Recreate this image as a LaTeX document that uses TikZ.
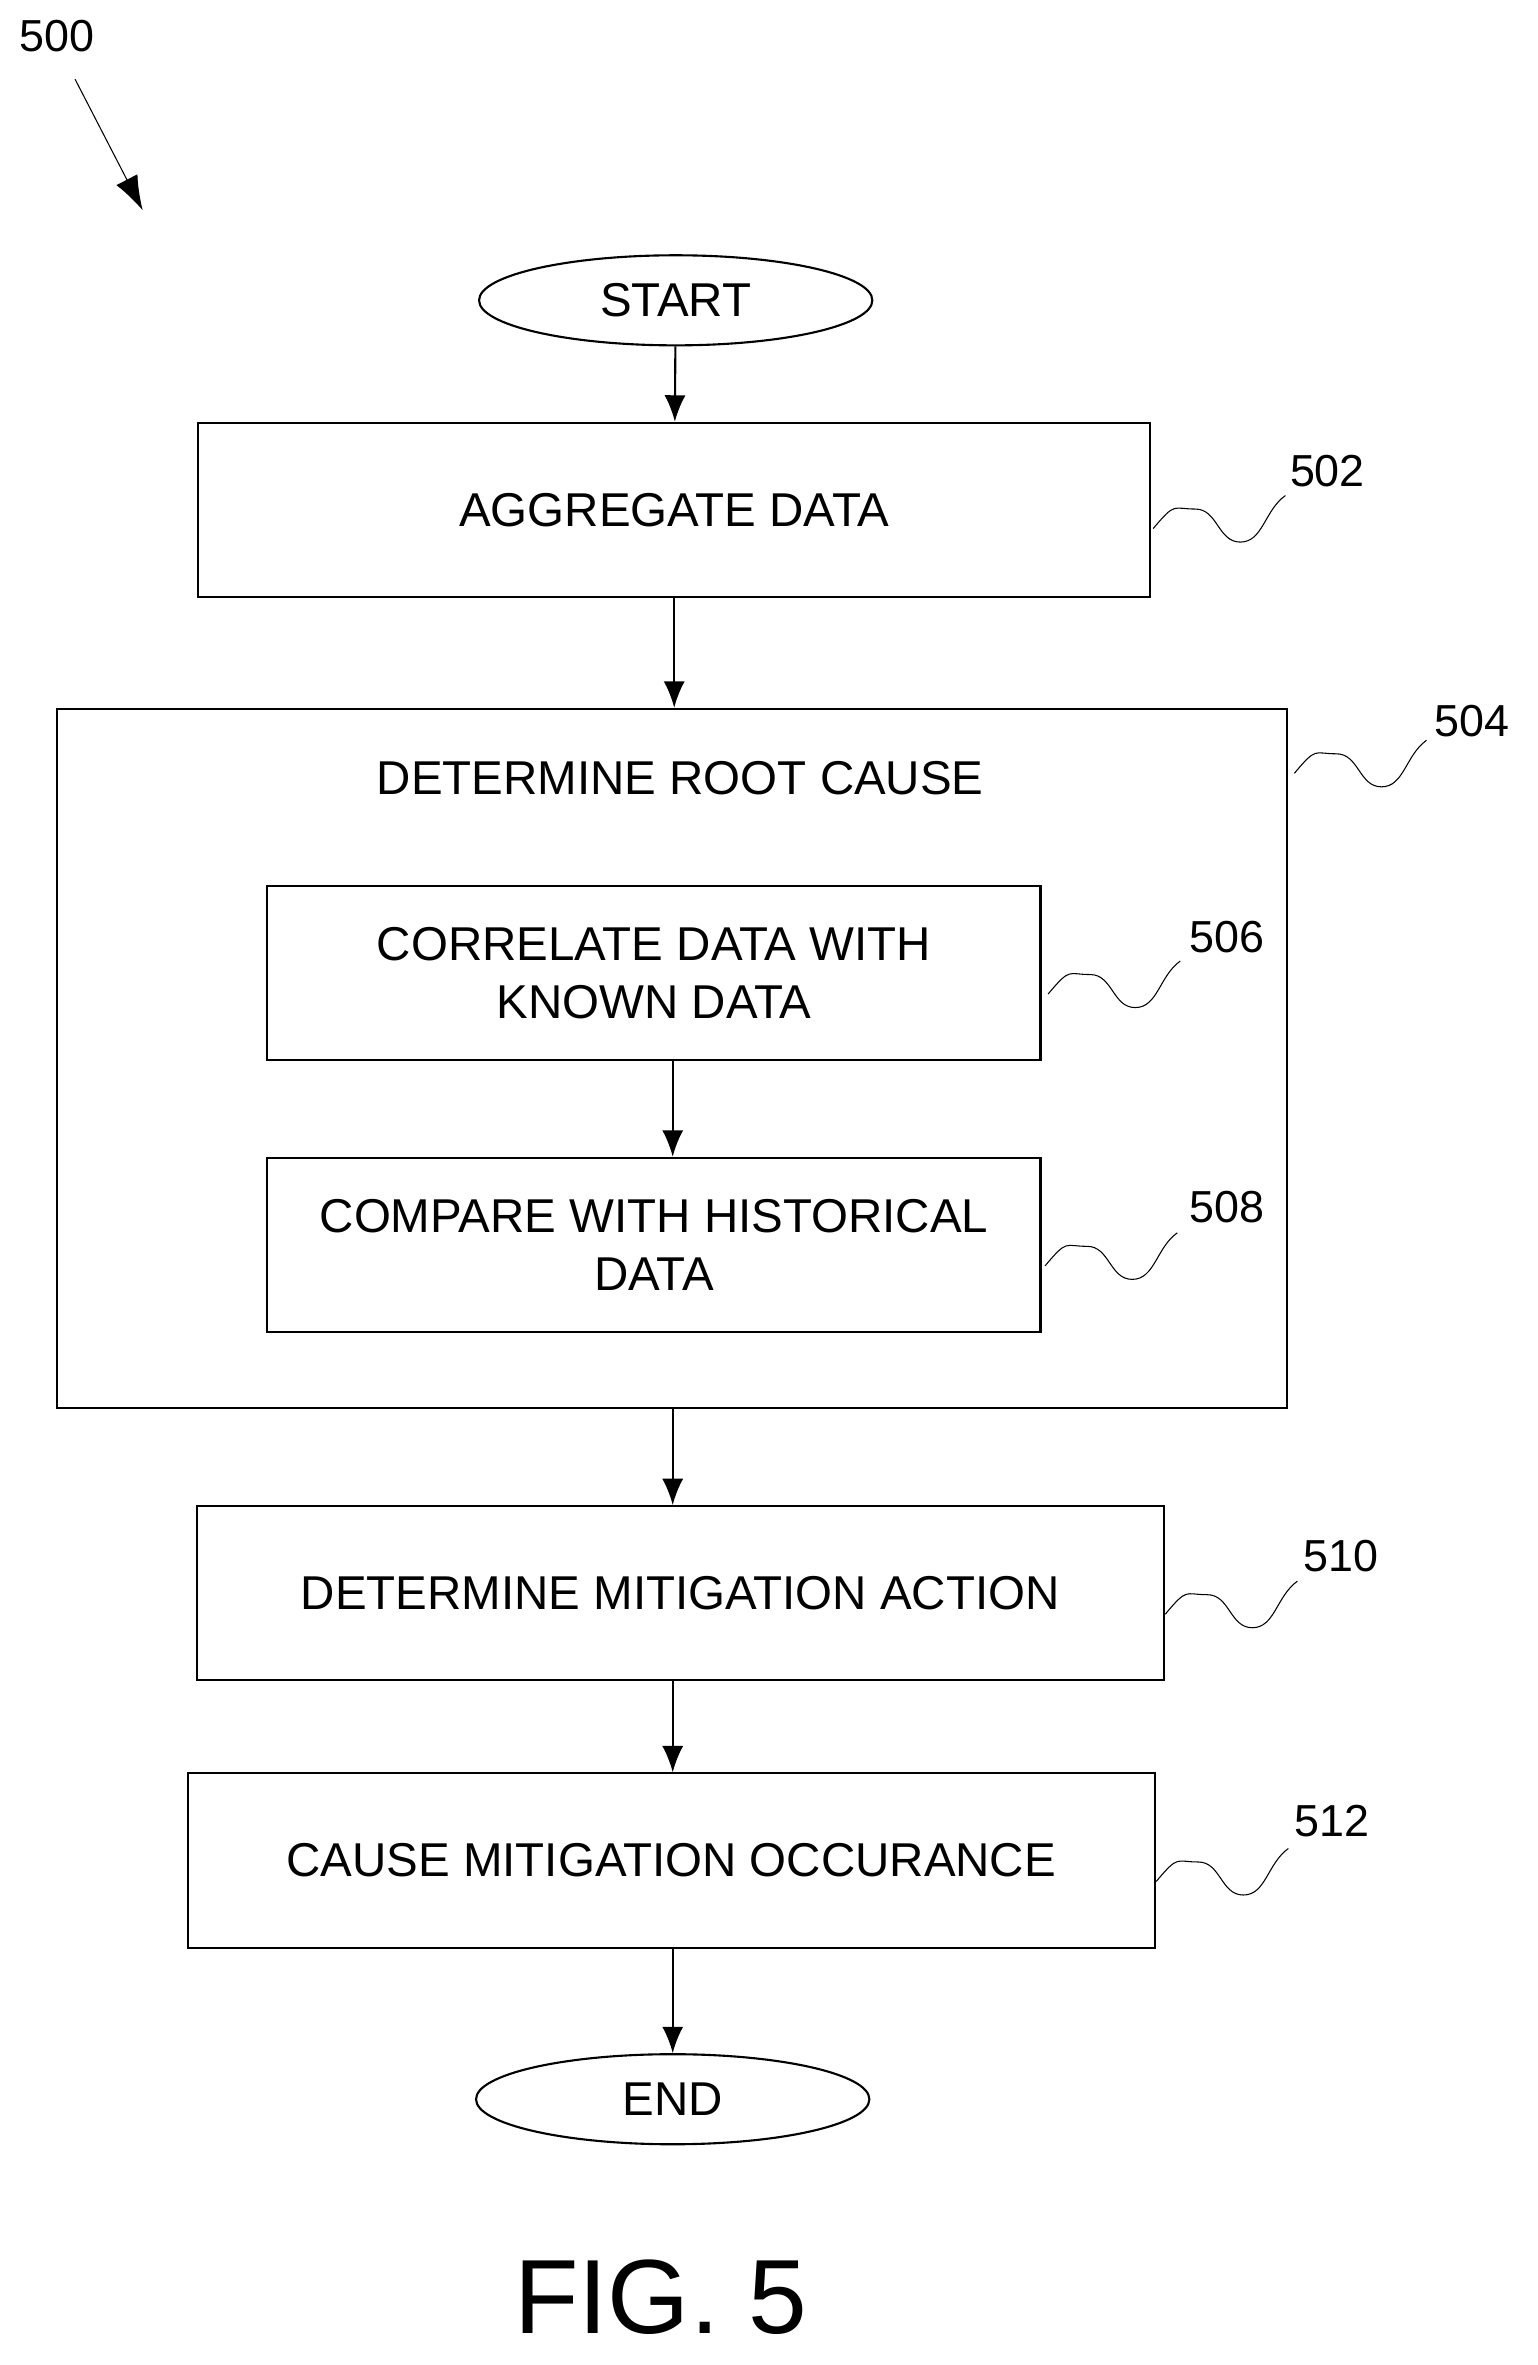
\documentclass[tikz,border=0pt]{standalone}
\usepackage{fontspec}
\setmainfont{Liberation Sans}
\usetikzlibrary{shapes.geometric,arrows.meta}
\begin{document}
\begin{tikzpicture}[x=0.02cm,y=-0.02cm,
  step/.style={draw,thick,minimum width=#1,minimum height=2.32cm,align=center,font=\fontsize{18}{22}\selectfont,inner sep=0pt},
  term/.style={draw,thick,ellipse,minimum width=5.24cm,minimum height=1.2cm,font=\fontsize{18}{22}\selectfont},
  num/.style={font=\fontsize{17}{21}\selectfont},
  flow/.style={-{Latex[length=10pt,width=8pt]},thick}
  ]
\useasboundingbox (0,0) rectangle (1024,1575);
\def\squig#1{.. controls +(15,-18) and +(-15,0) .. ++(28,-13) .. controls +(15,0) and +(-15,0) .. ++(30,22) .. controls +(15,0) and +(-14,10) .. ++(30,-31) coordinate (#1)}
\node[term] (start) at (450,200) {START};
\node[step=12.68cm] (agg) at (449,339.5) {AGGREGATE DATA};
\node[draw,thick,minimum width=16.38cm,minimum height=9.32cm] (root) at (447.5,705) {};
\node[font=\fontsize{18}{22}\selectfont] (roott) at (453,518) {DETERMINE ROOT CAUSE};
\node[step=10.3cm] (corr) at (435.5,648) {CORRELATE DATA WITH\\KNOWN DATA};
\node[step=10.3cm] (comp) at (435.5,829) {COMPARE WITH HISTORICAL\\DATA};
\node[step=12.88cm] (mitig) at (453,1061) {DETERMINE MITIGATION ACTION};
\node[step=12.88cm] (cause) at (447,1239) {CAUSE MITIGATION OCCURANCE};
\node[term] (end) at (448,1398) {END};
\node[font=\fontsize{40}{46}\selectfont] (fig) at (440,1530) {FIG. 5};
\node[num] (n500) at (38,24) {500};
\coordinate (a500) at (95,140);
\draw[-{Latex[length=13pt,width=9pt]}] (n500.south) ++(12,12) -- (a500);
% connectors
\draw[flow] (start) -- (agg);
\draw[flow] (agg) -- (root.north -| agg);
\draw[flow] (corr.south -| 448,0) -- (comp.north -| 448,0);
\draw[flow] (root.south -| 448,0) -- (mitig.north -| 448,0);
\draw[flow] (mitig.south -| 448,0) -- (cause.north -| 448,0);
\draw[flow] (cause.south -| 448,0) -- (end);
% reference squiggles
\draw (768,352) \squig{s502}; \node[num] (n502) at (884,314) {502};
\draw (862,515) \squig{s504}; \node[num] (n504) at (980,480) {504};
\draw (698,662) \squig{s506}; \node[num] (n506) at (817,624) {506};
\draw (696,843) \squig{s508}; \node[num] (n508) at (817,804) {508};
\draw (776,1075) \squig{s510}; \node[num] (n510) at (893,1036) {510};
\draw (770,1253) \squig{s512}; \node[num] (n512) at (887,1213) {512};
\end{tikzpicture}
\end{document}
